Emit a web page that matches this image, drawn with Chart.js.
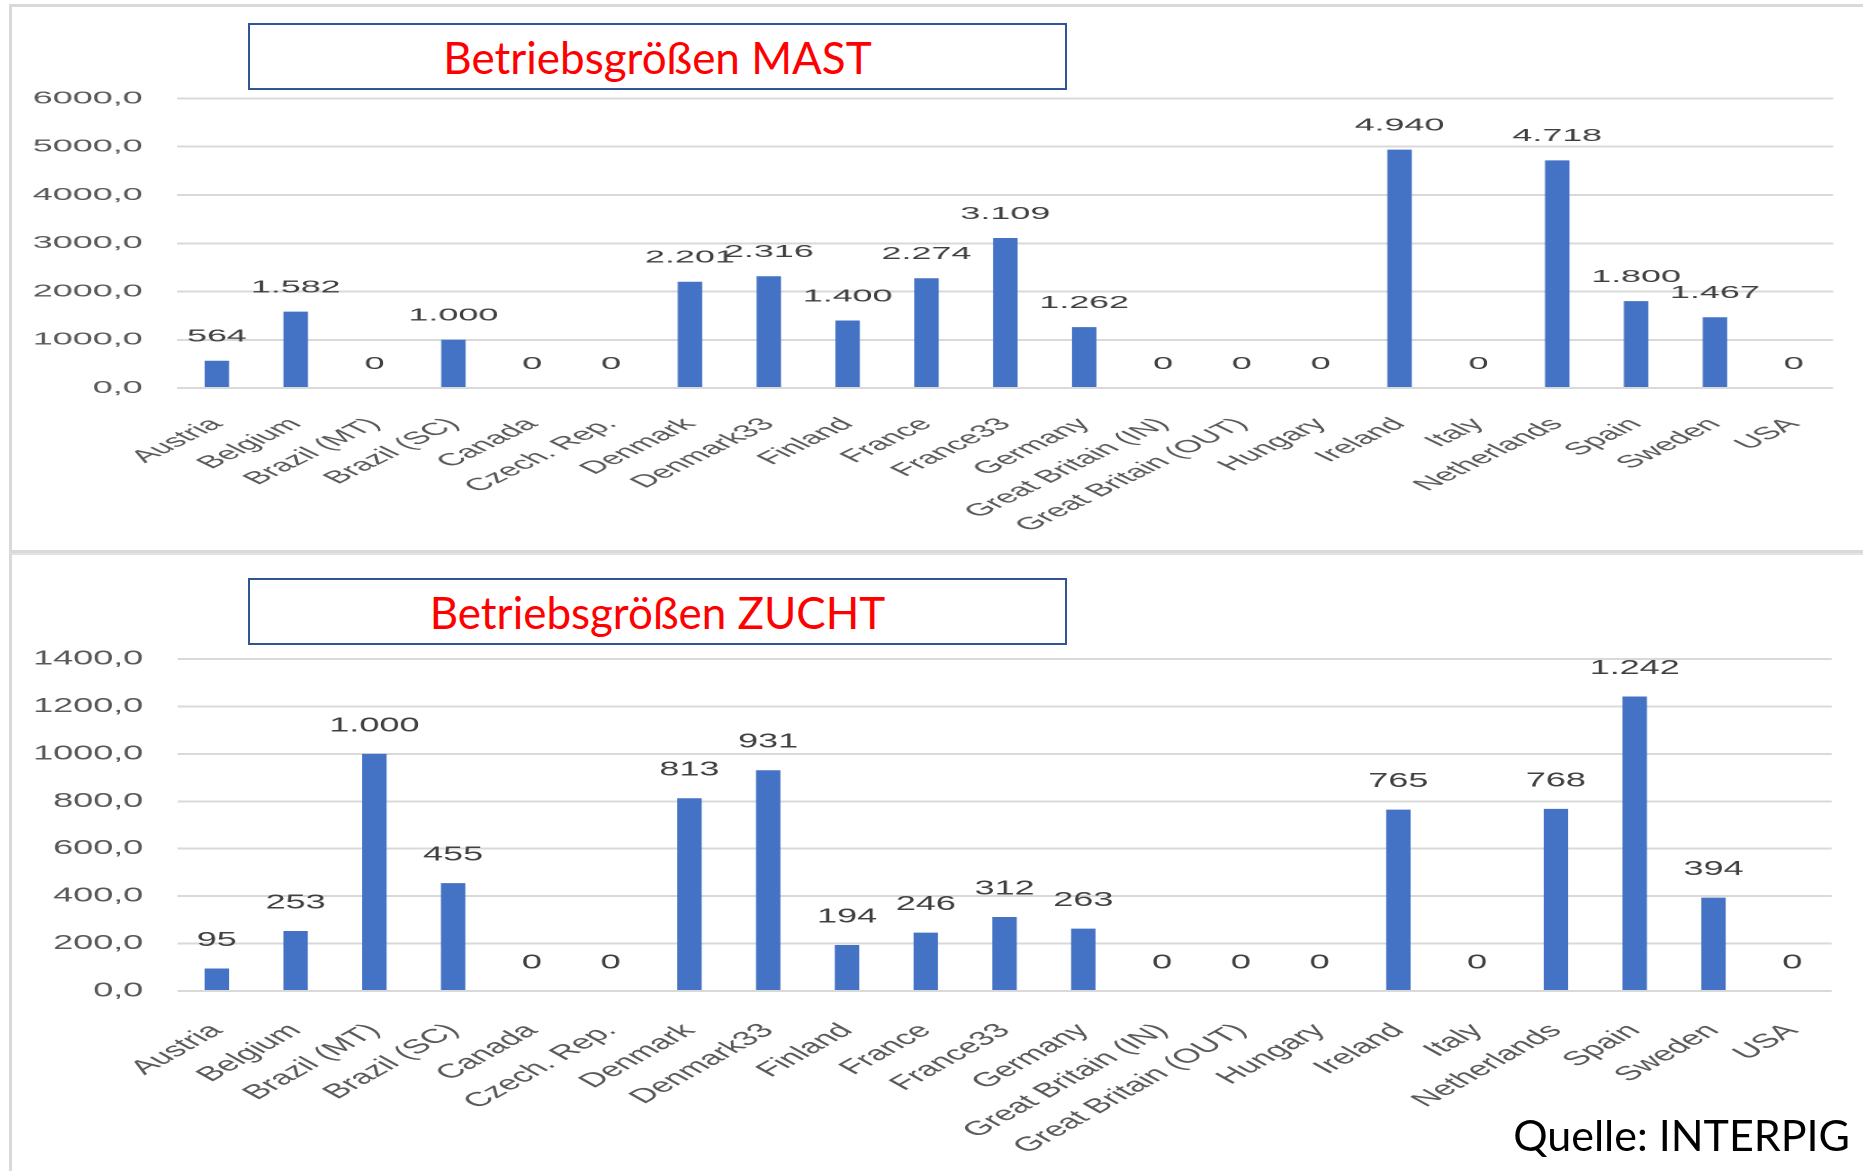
<!DOCTYPE html>
<html lang="de">
<head>
<meta charset="utf-8">
<title>Betriebsgrößen MAST / ZUCHT</title>
<script src="https://cdn.jsdelivr.net/npm/chart.js@4.4.1/dist/chart.umd.min.js"></script>
<style>
  html, body { margin: 0; padding: 0; background: #fff; }
  body { width: 1863px; height: 1171px; position: relative; overflow: hidden; }
  .panel { position: absolute; box-sizing: border-box; }
  #panelTop { left: 9px; top: 4px; width: 1880px; height: 549px; border: 3px solid #d9d9d9; }
  #panelBottom { left: 9px; top: 553px; width: 1880px; height: 700px; border-left: 3px solid #d9d9d9; border-top: 2px solid #e2e2e2; }
  .chartWrap { position: absolute; left: 12px; transform-origin: 0 0; }
  .chartWrap canvas { display: block; }
  .titleBox { position: absolute; left: 248px; width: 819px; height: 67px; box-sizing: border-box;
    border: 2.5px solid #2F5597; background: #fff; z-index: 2;
    display: flex; align-items: center; justify-content: center;
    font-family: Lato, "Noto Sans", sans-serif; font-size: 44px; color: #ff0000; }
  #titleTop { top: 23px; }
  #titleBottom { top: 578px; }
  #source { position: absolute; right: 13px; top: 1109px; z-index: 2;
    font-family: Lato, "Noto Sans", sans-serif; font-size: 43px; color: #000; }
</style>
</head>
<body>
<div class="panel" id="panelTop"></div>
<div class="panel" id="panelBottom"></div>

<div class="titleBox" id="titleTop">Betriebsgrößen MAST</div>
<div class="titleBox" id="titleBottom">Betriebsgrößen ZUCHT</div>

<!-- the original pictures are stretched sideways, so the canvases are too -->
<div class="chartWrap" id="wrapTop" style="top:71px; width:902px; height:467px; transform: scaleX(2.05);">
  <canvas id="chartMast"></canvas>
</div>
<div class="chartWrap" id="wrapBottom" style="top:628px; width:1026px; height:533px; transform: scaleX(1.8);">
  <canvas id="chartZucht"></canvas>
</div>

<div id="source">Quelle: INTERPIG</div>

<script>
const countries = ['Austria', 'Belgium', 'Brazil (MT)', 'Brazil (SC)', 'Canada', 'Czech. Rep.',
  'Denmark', 'Denmark33', 'Finland', 'France', 'France33', 'Germany', 'Great Britain (IN)',
  'Great Britain (OUT)', 'Hungary', 'Ireland', 'Italy', 'Netherlands', 'Spain', 'Sweden', 'USA'];

// Betriebsgrößen MAST
const mastValues = [564, 1582, 0, 1000, 0, 0, 2201, 2316, 1400, 2274, 3109, 1262, 0, 0, 0, 4940, 0, 4718, 1800, 1467, 0];
// Betriebsgrößen ZUCHT
const zuchtValues = [95, 253, 1000, 455, 0, 0, 813, 931, 194, 246, 312, 263, 0, 0, 0, 765, 0, 768, 1242, 394, 0];

const mastAxis = { min: 0, max: 6000, step: 1000 };
const zuchtAxis = { min: 0, max: 1400, step: 200 };

const FONT = '"Liberation Sans", Arial, sans-serif';

// 1582 -> "1.582"
function fmtThousands(v) {
  return String(v).replace(/\B(?=(\d{3})+(?!\d))/g, '.');
}

// Werte über die Balken schreiben (kein datalabels-Plugin vorhanden)
const valueLabels = {
  id: 'valueLabels',
  afterDatasetsDraw(chart, args, opts) {
    const ctx = chart.ctx;
    const meta = chart.getDatasetMeta(0);
    const data = chart.data.datasets[0].data;
    ctx.save();
    ctx.font = `${opts.size}px ${FONT}`;
    ctx.fillStyle = '#404040';
    ctx.textAlign = 'center';
    ctx.textBaseline = 'middle';
    meta.data.forEach((bar, i) => {
      ctx.fillText(fmtThousands(data[i]), bar.x, bar.y - opts.offset);
    });
    ctx.restore();
  }
};

function makeChart(canvasId, values, axis, cfg) {
  const ctx = document.getElementById(canvasId).getContext('2d');
  return new Chart(ctx, {
    type: 'bar',
    data: {
      labels: countries,
      datasets: [{
        data: values,
        backgroundColor: '#4472C4',
        borderWidth: 0,
        categoryPercentage: 1,
        barPercentage: 0.31
      }]
    },
    options: {
      responsive: true,
      maintainAspectRatio: false,
      animation: false,
      devicePixelRatio: 2,
      layout: { padding: 0 },
      plugins: {
        legend: { display: false },
        tooltip: { enabled: false },
        valueLabels: { size: cfg.font, offset: cfg.labelOffset }
      },
      scales: {
        x: {
          grid: { display: false },
          border: { display: false },
          ticks: {
            autoSkip: false,
            minRotation: 45,
            maxRotation: 45,
            padding: cfg.xPad,
            color: '#595959',
            font: { family: FONT, size: cfg.font }
          },
          afterFit: scale => { scale.height = cfg.xHeight; }
        },
        y: {
          min: axis.min,
          max: axis.max,
          grid: { color: '#d9d9d9', lineWidth: 2, drawTicks: false },
          border: { display: false },
          ticks: {
            stepSize: axis.step,
            padding: cfg.yPad,
            color: '#595959',
            font: { family: FONT, size: cfg.font },
            callback: v => v.toFixed(1).replace('.', ',')
          },
          afterFit: scale => { scale.width = cfg.yWidth; }
        }
      }
    },
    plugins: [valueLabels]
  });
}

makeChart('chartMast', mastValues, mastAxis,
  { font: 17.5, labelOffset: 24, xPad: 18, xHeight: 150, yPad: 17, yWidth: 80.7 });
makeChart('chartZucht', zuchtValues, zuchtAxis,
  { font: 20, labelOffset: 28, xPad: 20, xHeight: 170, yPad: 19, yWidth: 91.9 });
</script>
</body>
</html>
